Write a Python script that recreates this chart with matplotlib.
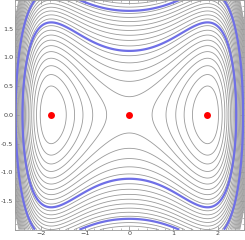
import numpy as np
import matplotlib.pyplot as plt
from matplotlib.ticker import MultipleLocator

# fixed points (red dots)
fixed_x = [-1.77, 0.0, 1.77]
fixed_y = [0.0, 0.0, 0.0]

# potential coefficients for H = y^2/2 + a x^2 + b x^4 + e x^6
coef_a = -0.253
coef_b = -0.0444
coef_e = 0.01796

gray_levels = [-0.55, -0.43, -0.31, -0.19, -0.07, 0.05, 0.17, 0.29, 0.41, 0.53,
               0.72, 0.84, 0.96, 1.08, 1.20, 1.32, 1.44, 1.56, 1.76, 1.88,
               2.00, 2.12, 2.24, 2.36, 2.48, 2.60, 2.72, 2.84, 2.96, 3.08]
blue_levels = [0.62, 1.64]

xlim = (-2.6, 2.6)
ylim = (-2.0, 2.0)

xs = np.linspace(xlim[0], xlim[1], 400)
ys = np.linspace(ylim[0], ylim[1], 400)
X, Y = np.meshgrid(xs, ys)
H = Y**2 / 2 + coef_a * X**2 + coef_b * X**4 + coef_e * X**6

fig = plt.figure(figsize=(2.45, 2.40), dpi=100)
ax = fig.add_axes([0.06, 0.043, 0.936, 0.957])

ax.contour(X, Y, H, levels=gray_levels, colors='#9a9a9a', linewidths=0.6,
           linestyles='solid')
ax.contour(X, Y, H, levels=blue_levels, colors='#6f6fe6', linewidths=1.6,
           linestyles='solid')
ax.plot(fixed_x, fixed_y, 'o', color='red', markersize=5, markeredgewidth=0)

ax.set_xlim(*xlim)
ax.set_ylim(*ylim)
ax.xaxis.set_major_locator(MultipleLocator(1))
ax.xaxis.set_minor_locator(MultipleLocator(0.2))
ax.yaxis.set_major_locator(MultipleLocator(0.5))
ax.yaxis.set_minor_locator(MultipleLocator(0.1))
ax.yaxis.set_major_formatter(plt.FuncFormatter(lambda v, p: '%.1f' % v if abs(v) < 1.9 else ''))
ax.tick_params(which='both', direction='in', top=True, right=True, colors='#888888',
               labelcolor='#444444', labelsize=4.6, pad=1)
ax.tick_params(which='major', length=3, width=0.5)
ax.tick_params(which='minor', length=1.5, width=0.4)
for s in ax.spines.values():
    s.set_color('#999999')
    s.set_linewidth(0.6)

fig.savefig('out.png', dpi=100)
